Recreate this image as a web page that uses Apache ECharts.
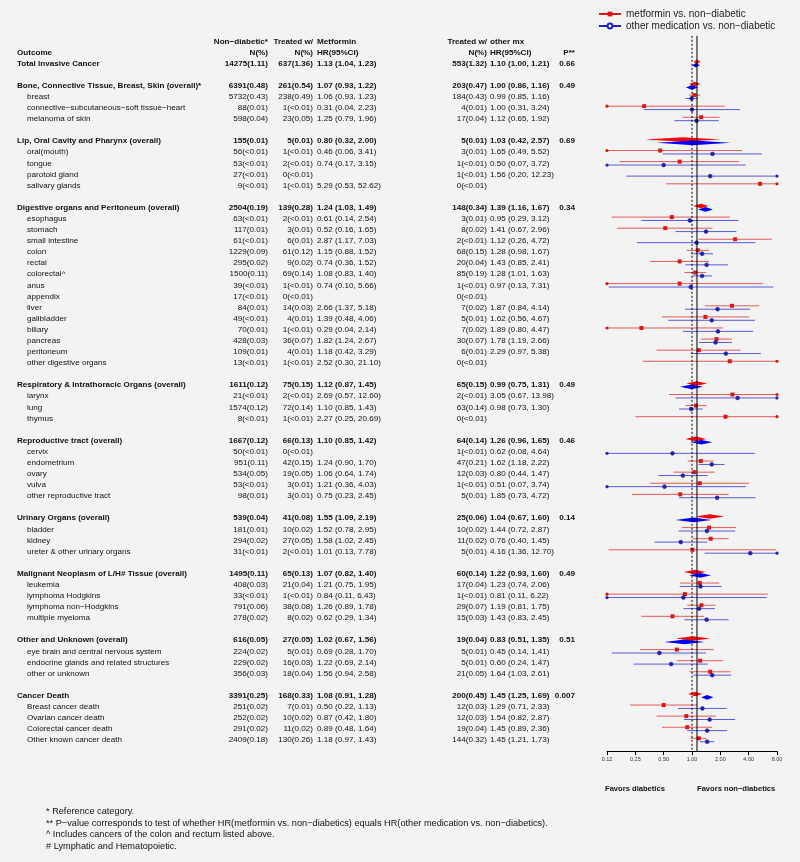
<!DOCTYPE html>
<html><head><meta charset="utf-8">
<script src="https://cdn.jsdelivr.net/npm/echarts@6/dist/echarts.min.js"></script>
<style>html,body{margin:0;padding:0;background:#f3f3f3}#c{width:800px;height:862px}</style>
</head><body><div id="c"></div>
<script>
const outcomes = [
 'Total Invasive Cancer','',
 'Bone, Connective Tissue, Breast, Skin (overall)*','breast','connective−subcutaneous−soft tissue−heart','melanoma of skin','',
 'Lip, Oral Cavity and Pharynx (overall)','oral(mouth)','tongue','parotoid gland','salivary glands','',
 'Digestive organs and Peritoneum (overall)','esophagus','stomach','small intestine','colon','rectal','colorectal^','anus','appendix','liver','gallbladder','biliary','pancreas','peritoneum','other digestive organs','',
 'Respiratory & Intrathoracic Organs (overall)','larynx','lung','thymus','',
 'Reproductive tract (overall)','cervix','endometrium','ovary','vulva','other reproductive tract','',
 'Urinary Organs (overall)','bladder','kidney','ureter & other urinary organs','',
 'Malignant Neoplasm of L/H# Tissue (overall)','leukemia','lymphoma Hodgkins','lymphoma non−Hodgkins','multiple myeloma','',
 'Other and Unknown (overall)','eye brain and central nervous system','endocrine glands and related structures','other or unknown','',
 'Cancer Death','Breast cancer death','Ovarian cancer death','Colorectal cancer death','Other known cancer death'
];
const nonDiabetic = [
 '14275(1.11)','',
 '6391(0.48)','5732(0.43)','88(0.01)','598(0.04)','',
 '155(0.01)','56(<0.01)','53(<0.01)','27(<0.01)','9(<0.01)','',
 '2504(0.19)','63(<0.01)','117(0.01)','61(<0.01)','1229(0.09)','295(0.02)','1500(0.11)','39(<0.01)','17(<0.01)','84(0.01)','49(<0.01)','70(0.01)','428(0.03)','109(0.01)','13(<0.01)','',
 '1611(0.12)','21(<0.01)','1574(0.12)','8(<0.01)','',
 '1667(0.12)','50(<0.01)','951(0.11)','534(0.05)','53(<0.01)','98(0.01)','',
 '539(0.04)','181(0.01)','294(0.02)','31(<0.01)','',
 '1495(0.11)','408(0.03)','33(<0.01)','791(0.06)','278(0.02)','',
 '616(0.05)','224(0.02)','229(0.02)','356(0.03)','',
 '3391(0.25)','251(0.02)','252(0.02)','291(0.02)','2409(0.18)'
];
const metforminN = [
 '637(1.36)','',
 '261(0.54)','238(0.49)','1(<0.01)','23(0.05)','',
 '5(0.01)','1(<0.01)','2(<0.01)','0(<0.01)','1(<0.01)','',
 '139(0.28)','2(<0.01)','3(0.01)','6(0.01)','61(0.12)','9(0.02)','69(0.14)','1(<0.01)','0(<0.01)','14(0.03)','4(0.01)','1(<0.01)','36(0.07)','4(0.01)','1(<0.01)','',
 '75(0.15)','2(<0.01)','72(0.14)','1(<0.01)','',
 '66(0.13)','0(<0.01)','42(0.15)','19(0.05)','3(0.01)','3(0.01)','',
 '41(0.08)','10(0.02)','27(0.05)','2(<0.01)','',
 '65(0.13)','21(0.04)','1(<0.01)','38(0.08)','8(0.02)','',
 '27(0.05)','5(0.01)','16(0.03)','18(0.04)','',
 '168(0.33)','7(0.01)','10(0.02)','11(0.02)','130(0.26)'
];
const metforminHR = [
 '1.13 (1.04, 1.23)','',
 '1.07 (0.93, 1.22)','1.06 (0.93, 1.23)','0.31 (0.04, 2.23)','1.25 (0.79, 1.96)','',
 '0.80 (0.32, 2.00)','0.46 (0.06, 3.41)','0.74 (0.17, 3.15)','','5.29 (0.53, 52.62)','',
 '1.24 (1.03, 1.49)','0.61 (0.14, 2.54)','0.52 (0.16, 1.65)','2.87 (1.17, 7.03)','1.15 (0.88, 1.52)','0.74 (0.36, 1.52)','1.08 (0.83, 1.40)','0.74 (0.10, 5.66)','','2.66 (1.37, 5.18)','1.39 (0.48, 4.06)','0.29 (0.04, 2.14)','1.82 (1.24, 2.67)','1.18 (0.42, 3.29)','2.52 (0.30, 21.10)','',
 '1.12 (0.87, 1.45)','2.69 (0.57, 12.60)','1.10 (0.85, 1.43)','2.27 (0.25, 20.69)','',
 '1.10 (0.85, 1.42)','','1.24 (0.90, 1.70)','1.06 (0.64, 1.74)','1.21 (0.36, 4.03)','0.75 (0.23, 2.45)','',
 '1.55 (1.09, 2.19)','1.52 (0.78, 2.95)','1.58 (1.02, 2.45)','1.01 (0.13, 7.78)','',
 '1.07 (0.82, 1.40)','1.21 (0.75, 1.95)','0.84 (0.11, 6.43)','1.26 (0.89, 1.78)','0.62 (0.29, 1.34)','',
 '1.02 (0.67, 1.56)','0.69 (0.28, 1.70)','1.22 (0.69, 2.14)','1.56 (0.94, 2.58)','',
 '1.08 (0.91, 1.28)','0.50 (0.22, 1.13)','0.87 (0.42, 1.80)','0.89 (0.48, 1.64)','1.18 (0.97, 1.43)'
];
const otherN = [
 '553(1.32)','',
 '203(0.47)','184(0.43)','4(0.01)','17(0.04)','',
 '5(0.01)','3(0.01)','1(<0.01)','1(<0.01)','0(<0.01)','',
 '148(0.34)','3(0.01)','8(0.02)','2(<0.01)','68(0.15)','20(0.04)','85(0.19)','1(<0.01)','0(<0.01)','7(0.02)','5(0.01)','7(0.02)','30(0.07)','6(0.01)','0(<0.01)','',
 '65(0.15)','2(<0.01)','63(0.14)','0(<0.01)','',
 '64(0.14)','1(<0.01)','47(0.21)','12(0.03)','1(<0.01)','5(0.01)','',
 '25(0.06)','10(0.02)','11(0.02)','5(0.01)','',
 '60(0.14)','17(0.04)','1(<0.01)','29(0.07)','15(0.03)','',
 '19(0.04)','5(0.01)','5(0.01)','21(0.05)','',
 '200(0.45)','12(0.03)','12(0.03)','19(0.04)','144(0.32)'
];
const otherHR = [
 '1.10 (1.00, 1.21)','',
 '1.00 (0.86, 1.16)','0.99 (0.85, 1.16)','1.00 (0.31, 3.24)','1.12 (0.65, 1.92)','',
 '1.03 (0.42, 2.57)','1.65 (0.49, 5.52)','0.50 (0.07, 3.72)','1.56 (0.20, 12.23)','','',
 '1.39 (1.16, 1.67)','0.95 (0.29, 3.12)','1.41 (0.67, 2.96)','1.12 (0.26, 4.72)','1.28 (0.98, 1.67)','1.43 (0.85, 2.41)','1.28 (1.01, 1.63)','0.97 (0.13, 7.31)','','1.87 (0.84, 4.14)','1.62 (0.56, 4.67)','1.89 (0.80, 4.47)','1.78 (1.19, 2.66)','2.29 (0.97, 5.38)','','',
 '0.99 (0.75, 1.31)','3.05 (0.67, 13.98)','0.98 (0.73, 1.30)','','',
 '1.26 (0.96, 1.65)','0.62 (0.08, 4.64)','1.62 (1.18, 2.22)','0.80 (0.44, 1.47)','0.51 (0.07, 3.74)','1.85 (0.73, 4.72)','',
 '1.04 (0.67, 1.60)','1.44 (0.72, 2.87)','0.76 (0.40, 1.45)','4.16 (1.36, 12.70)','',
 '1.22 (0.93, 1.60)','1.23 (0.74, 2.06)','0.81 (0.11, 6.22)','1.19 (0.81, 1.75)','1.43 (0.83, 2.45)','',
 '0.83 (0.51, 1.35)','0.45 (0.14, 1.41)','0.60 (0.24, 1.47)','1.64 (1.03, 2.61)','',
 '1.45 (1.25, 1.69)','1.29 (0.71, 2.33)','1.54 (0.82, 2.87)','1.45 (0.89, 2.36)','1.45 (1.21, 1.73)'
];
const pValues = {0:'0.66',2:'0.49',7:'0.69',13:'0.34',29:'0.49',34:'0.46',41:'0.14',46:'0.49',52:'0.51',57:'0.007'};
const overallRows = [0,2,7,13,29,34,41,46,52,57];
const headerTop = ['Non−diabetic*','Treated w/','Metformin','Treated w/','other mx'];
const headerBottom = ['Outcome','N(%)','N(%)','HR(95%CI)','N(%)','HR(95%CI)','P**'];
const tickValues = [0.125,0.25,0.5,1,2,4,8];
const tickLabels = ['0.12','0.25','0.50','1.00','2.00','4.00','8.00'];
const refLineDotted = 1;
const refLineSolid = 1.13;
const seriesNames = ['metformin vs. non−diabetic','other medication vs. non−diabetic'];
const favorsText = ['Favors diabetics','Favors non−diabetics'];
const footnotes = [
 '* Reference category.',
 '** P−value corresponds to test of whether HR(metformin vs. non−diabetics) equals HR(other medication vs. non−diabetics).',
 '^ Includes cancers of the colon and rectum listed above.',
 '# Lymphatic and Hematopoietic.'
];

// ---- layout (positions/styles) ----
const FONT = '"Liberation Sans", Arial, sans-serif';
const FS = 8.1;
const col = {label:17, sub:27, nd:268, metN:313, metHR:317, othN:487, othHR:490, p:575};
const Y_MIN = -2.5, Y_MAX = 62;

function parseHR(s){
  const m = /([\d.]+) \(([\d.]+), ([\d.]+)\)/.exec(s);
  return m ? [+m[1], +m[2], +m[3]] : null;
}

const cells = [];
function addCell(x, row, text, align, bold){ if(text) cells.push({x,row,text,align,bold}); }
addCell(col.nd, -2, headerTop[0], 'right', true);
addCell(col.metN, -2, headerTop[1], 'right', true);
addCell(col.metHR, -2, headerTop[2], 'left', true);
addCell(col.othN, -2, headerTop[3], 'right', true);
addCell(col.othHR, -2, headerTop[4], 'left', true);
addCell(col.label, -1, headerBottom[0], 'left', true);
addCell(col.nd, -1, headerBottom[1], 'right', true);
addCell(col.metN, -1, headerBottom[2], 'right', true);
addCell(col.metHR, -1, headerBottom[3], 'left', true);
addCell(col.othN, -1, headerBottom[4], 'right', true);
addCell(col.othHR, -1, headerBottom[5], 'left', true);
addCell(col.p, -1, headerBottom[6], 'right', true);
outcomes.forEach((o, i) => {
  const b = overallRows.includes(i);
  addCell(b ? col.label : col.sub, i, o, 'left', b);
  addCell(col.nd, i, nonDiabetic[i], 'right', b);
  addCell(col.metN, i, metforminN[i], 'right', b);
  addCell(col.metHR, i, metforminHR[i], 'left', b);
  addCell(col.othN, i, otherN[i], 'right', b);
  addCell(col.othHR, i, otherHR[i], 'left', b);
  if (pValues[i]) addCell(col.p, i, pValues[i], 'right', true);
});

function forestData(arr){
  const out = [];
  arr.forEach((s, i) => {
    const v = parseHR(s);
    if (v) out.push([v[0], i, v[1], v[2], overallRows.includes(i) ? 1 : 0]);
  });
  return out;
}
const metData = forestData(metforminHR);
const othData = forestData(otherHR);

const sty = {
  met: {line:'#e45a5a', pt:'#d81818', dia:'#ff0000', off:-1.7},
  oth: {line:'#5a5ad8', pt:'#2222b8', dia:'#0000ff', off:1.7}
};
function forestRender(kind){
  const s = sty[kind];
  return function(params, api){
    const hr = api.value(0), row = api.value(1), lo = api.value(2), hi = api.value(3), ov = api.value(4);
    const cl = v => Math.min(8, Math.max(0.125, v));
    const y = api.coord([1, row])[1] + s.off;
    const xl = api.coord([cl(lo), row])[0], xh = api.coord([cl(hi), row])[0], xp = api.coord([cl(hr), row])[0];
    const ch = [];
    if (ov) {
      ch.push({type:'polygon', shape:{points:[[xl,y],[xp,y-2.3],[xh,y],[xp,y+2.3]]}, style:{fill:s.dia}});
    } else {
      ch.push({type:'line', shape:{x1:xl,y1:y,x2:xh,y2:y}, style:{stroke:s.line, lineWidth:1}});
      if (lo < 0.125) ch.push({type:'circle', shape:{cx:xl, cy:y, r:1.6}, style:{fill:s.pt}});
      if (hi > 8) ch.push({type:'circle', shape:{cx:xh, cy:y, r:1.6}, style:{fill:s.pt}});
      if (kind === 'met') ch.push({type:'rect', shape:{x:xp-2, y:y-2, width:4, height:4}, style:{fill:s.pt}});
      else ch.push({type:'circle', shape:{cx:xp, cy:y, r:1.9}, style:{fill:s.pt, stroke:'#1a1a90', lineWidth:0.6}});
    }
    return {type:'group', children:ch};
  };
}

const chart = echarts.init(document.getElementById('c'), null, {renderer:'canvas'});
chart.setOption({
  backgroundColor:'#f3f3f3',
  animation:false,
  textStyle:{fontFamily:FONT},
  legend:{
    data:seriesNames, orient:'vertical', left:598, top:9, padding:0,
    itemWidth:22, itemHeight:6, itemGap:2,
    textStyle:{fontSize:10, color:'#222', lineHeight:9, fontFamily:FONT}
  },
  grid:[
    {left:607, width:170, top:35.8, bottom:110.9},
    {left:0, right:0, top:35.8, bottom:110.9}
  ],
  xAxis:[
    {type:'log', logBase:2, min:0.125, max:8, interval:1, gridIndex:0, position:'bottom',
     axisLine:{show:true, onZero:false, lineStyle:{color:'#000', width:1}},
     axisTick:{show:true, length:4, lineStyle:{color:'#000'}},
     splitLine:{show:false},
     axisLabel:{fontSize:5.5, color:'#333', margin:5, fontFamily:FONT,
       formatter:v => { const i = tickValues.findIndex(t => Math.abs(t - v) < 1e-6); return i >= 0 ? tickLabels[i] : ''; }}},
    {type:'value', min:0, max:800, gridIndex:1, show:false}
  ],
  yAxis:[
    {type:'value', min:Y_MIN, max:Y_MAX, inverse:true, gridIndex:0, show:false},
    {type:'value', min:Y_MIN, max:Y_MAX, inverse:true, gridIndex:1, show:false}
  ],
  series:[
    {name:seriesNames[0], type:'line', xAxisIndex:0, yAxisIndex:0, data:[], symbol:'rect', symbolSize:5,
     itemStyle:{color:'#d81818'}, lineStyle:{color:'#d81818', width:1.2}},
    {name:seriesNames[1], type:'line', xAxisIndex:0, yAxisIndex:0, data:[], symbol:'emptyCircle', symbolSize:5,
     itemStyle:{color:'#2222b8'}, lineStyle:{color:'#2222b8', width:1.2}},
    {type:'line', xAxisIndex:0, yAxisIndex:0, data:[[refLineDotted, Y_MIN],[refLineDotted, Y_MAX]], symbol:'none', silent:true,
     lineStyle:{color:'#000', width:1, type:[2,2]}},
    {type:'line', xAxisIndex:0, yAxisIndex:0, data:[[refLineSolid, Y_MIN],[refLineSolid, Y_MAX]], symbol:'none', silent:true,
     lineStyle:{color:'#000', width:1}},
    {name:'met', type:'custom', xAxisIndex:0, yAxisIndex:0, data:metData, encode:{x:[0,2,3], y:1},
     renderItem:forestRender('met'), clip:false, silent:true},
    {name:'oth', type:'custom', xAxisIndex:0, yAxisIndex:0, data:othData, encode:{x:[0,2,3], y:1},
     renderItem:forestRender('oth'), clip:false, silent:true},
    {name:'table', type:'custom', xAxisIndex:1, yAxisIndex:1, data:cells.map(c => [c.x, c.row]), silent:true, clip:false,
     renderItem:function(params, api){
       const c = cells[params.dataIndex];
       const p = api.coord([c.x, c.row]);
       return {type:'text', x:p[0], y:p[1], style:{text:c.text, align:c.align, textAlign:c.align, verticalAlign:'middle', textVerticalAlign:'middle',
         font:(c.bold ? 'bold ' : '') + FS + 'px ' + FONT, fill:'#111'}};
     }}
  ],
  graphic:[
    {type:'text', left:605, top:785, style:{text:favorsText[0], font:'bold 7.6px ' + FONT, fill:'#111'}},
    {type:'text', left:697, top:785, style:{text:favorsText[1], font:'bold 7.6px ' + FONT, fill:'#111'}},
    ...footnotes.map((f, i) => ({type:'text', left:46, top:807 + i * 11.5, style:{text:f, font:'9.2px ' + FONT, fill:'#111'}}))
  ]
});
</script></body></html>
